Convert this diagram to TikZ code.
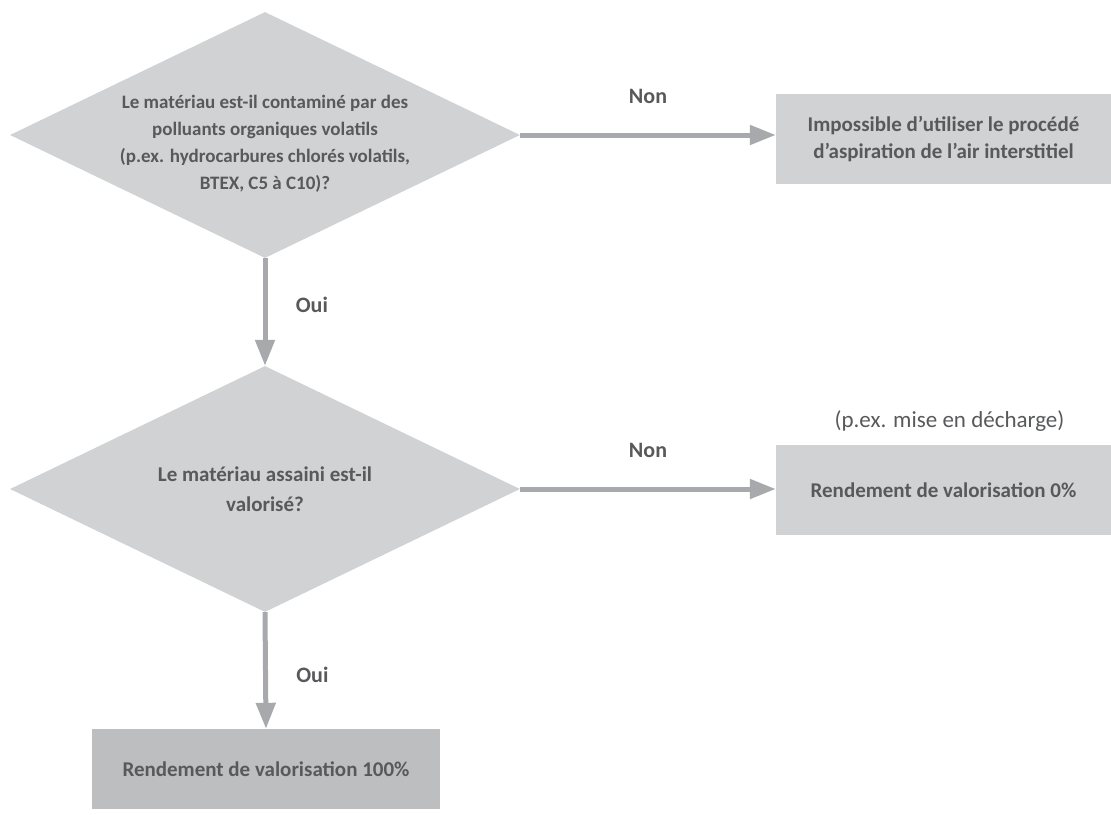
\documentclass[tikz,border=0pt]{standalone}
\usepackage{fontspec}
\setmainfont{Carlito}
\usetikzlibrary{arrows.meta}
\usetikzlibrary{shapes.geometric}
\usetikzlibrary{positioning}

\definecolor{boxgray}{HTML}{D1D2D4}
\definecolor{resgray}{HTML}{BCBEC0}
\definecolor{arrowgray}{HTML}{A7A9AC}
\definecolor{textgray}{HTML}{58595B}

\begin{document}
\begin{tikzpicture}[x=1pt,y=-1pt,
  question/.style={diamond,fill=boxgray,text=textgray,inner sep=0pt,aspect=2.07,
    minimum width=510pt,minimum height=246pt,align=center},
  outcome/.style={rectangle,fill=boxgray,text=textgray,inner sep=0pt,align=center,
    font=\bfseries\fontsize{21}{27}\selectfont},
  flow/.style={arrowgray,line width=5pt,-{Triangle[length=26pt,width=19pt]}},
  answer/.style={text=textgray,font=\bfseries\fontsize{22}{24}\selectfont}]
  \useasboundingbox (0,0) rectangle (1111,814);

  % Questions
  \node[question,font=\bfseries\fontsize{19}{27}\selectfont] (q1) at (265,135)
    {\raisebox{-13pt}[0pt][0pt]{\begin{tabular}{@{}c@{}}
     Le matériau est-il contaminé par des\\
     polluants organiques volatils\\
     (p.ex. hydrocarbures chlorés volatils,\\
     BTEX, C5 à C10)?\end{tabular}}};
  \node[question,font=\bfseries\fontsize{21}{30}\selectfont] (q2) at (265,489)
    {Le matériau assaini est-il\\ valorisé?};

  % Outcomes
  \node[outcome,minimum width=335pt,minimum height=90pt] (r1) at (943.5,139)
    {Impossible d’utiliser le procédé\\ d’aspiration de l’air interstitiel};
  \node[outcome,minimum width=335pt,minimum height=90pt] (r2) at (943.5,490)
    {Rendement de valorisation 0\%};
  \node[outcome,fill=resgray,minimum width=348pt,minimum height=80pt] (r3) at (266,769)
    {Rendement de valorisation 100\%};
  \node[text=textgray,font=\fontsize{23}{26}\selectfont,above=17pt of r2.north,anchor=base,xshift=6pt] (note)
    {(p.ex. mise en décharge)};

  % Connectors
  \draw[flow] (q1.east) -- node[answer,above=26pt] (no1) {Non} (r1.west |- q1.east);
  \draw[flow] (q1.south) -- node[answer,right=25pt,yshift=7pt] (yes1) {Oui} (q2.north);
  \draw[flow] (q2.east) -- node[answer,above=26pt] (no2) {Non} (r2.west |- q2.east);
  \draw[flow] (q2.south) -- node[answer,right=25pt,yshift=-4pt] (yes2) {Oui} (r3.north);
\end{tikzpicture}
\end{document}
